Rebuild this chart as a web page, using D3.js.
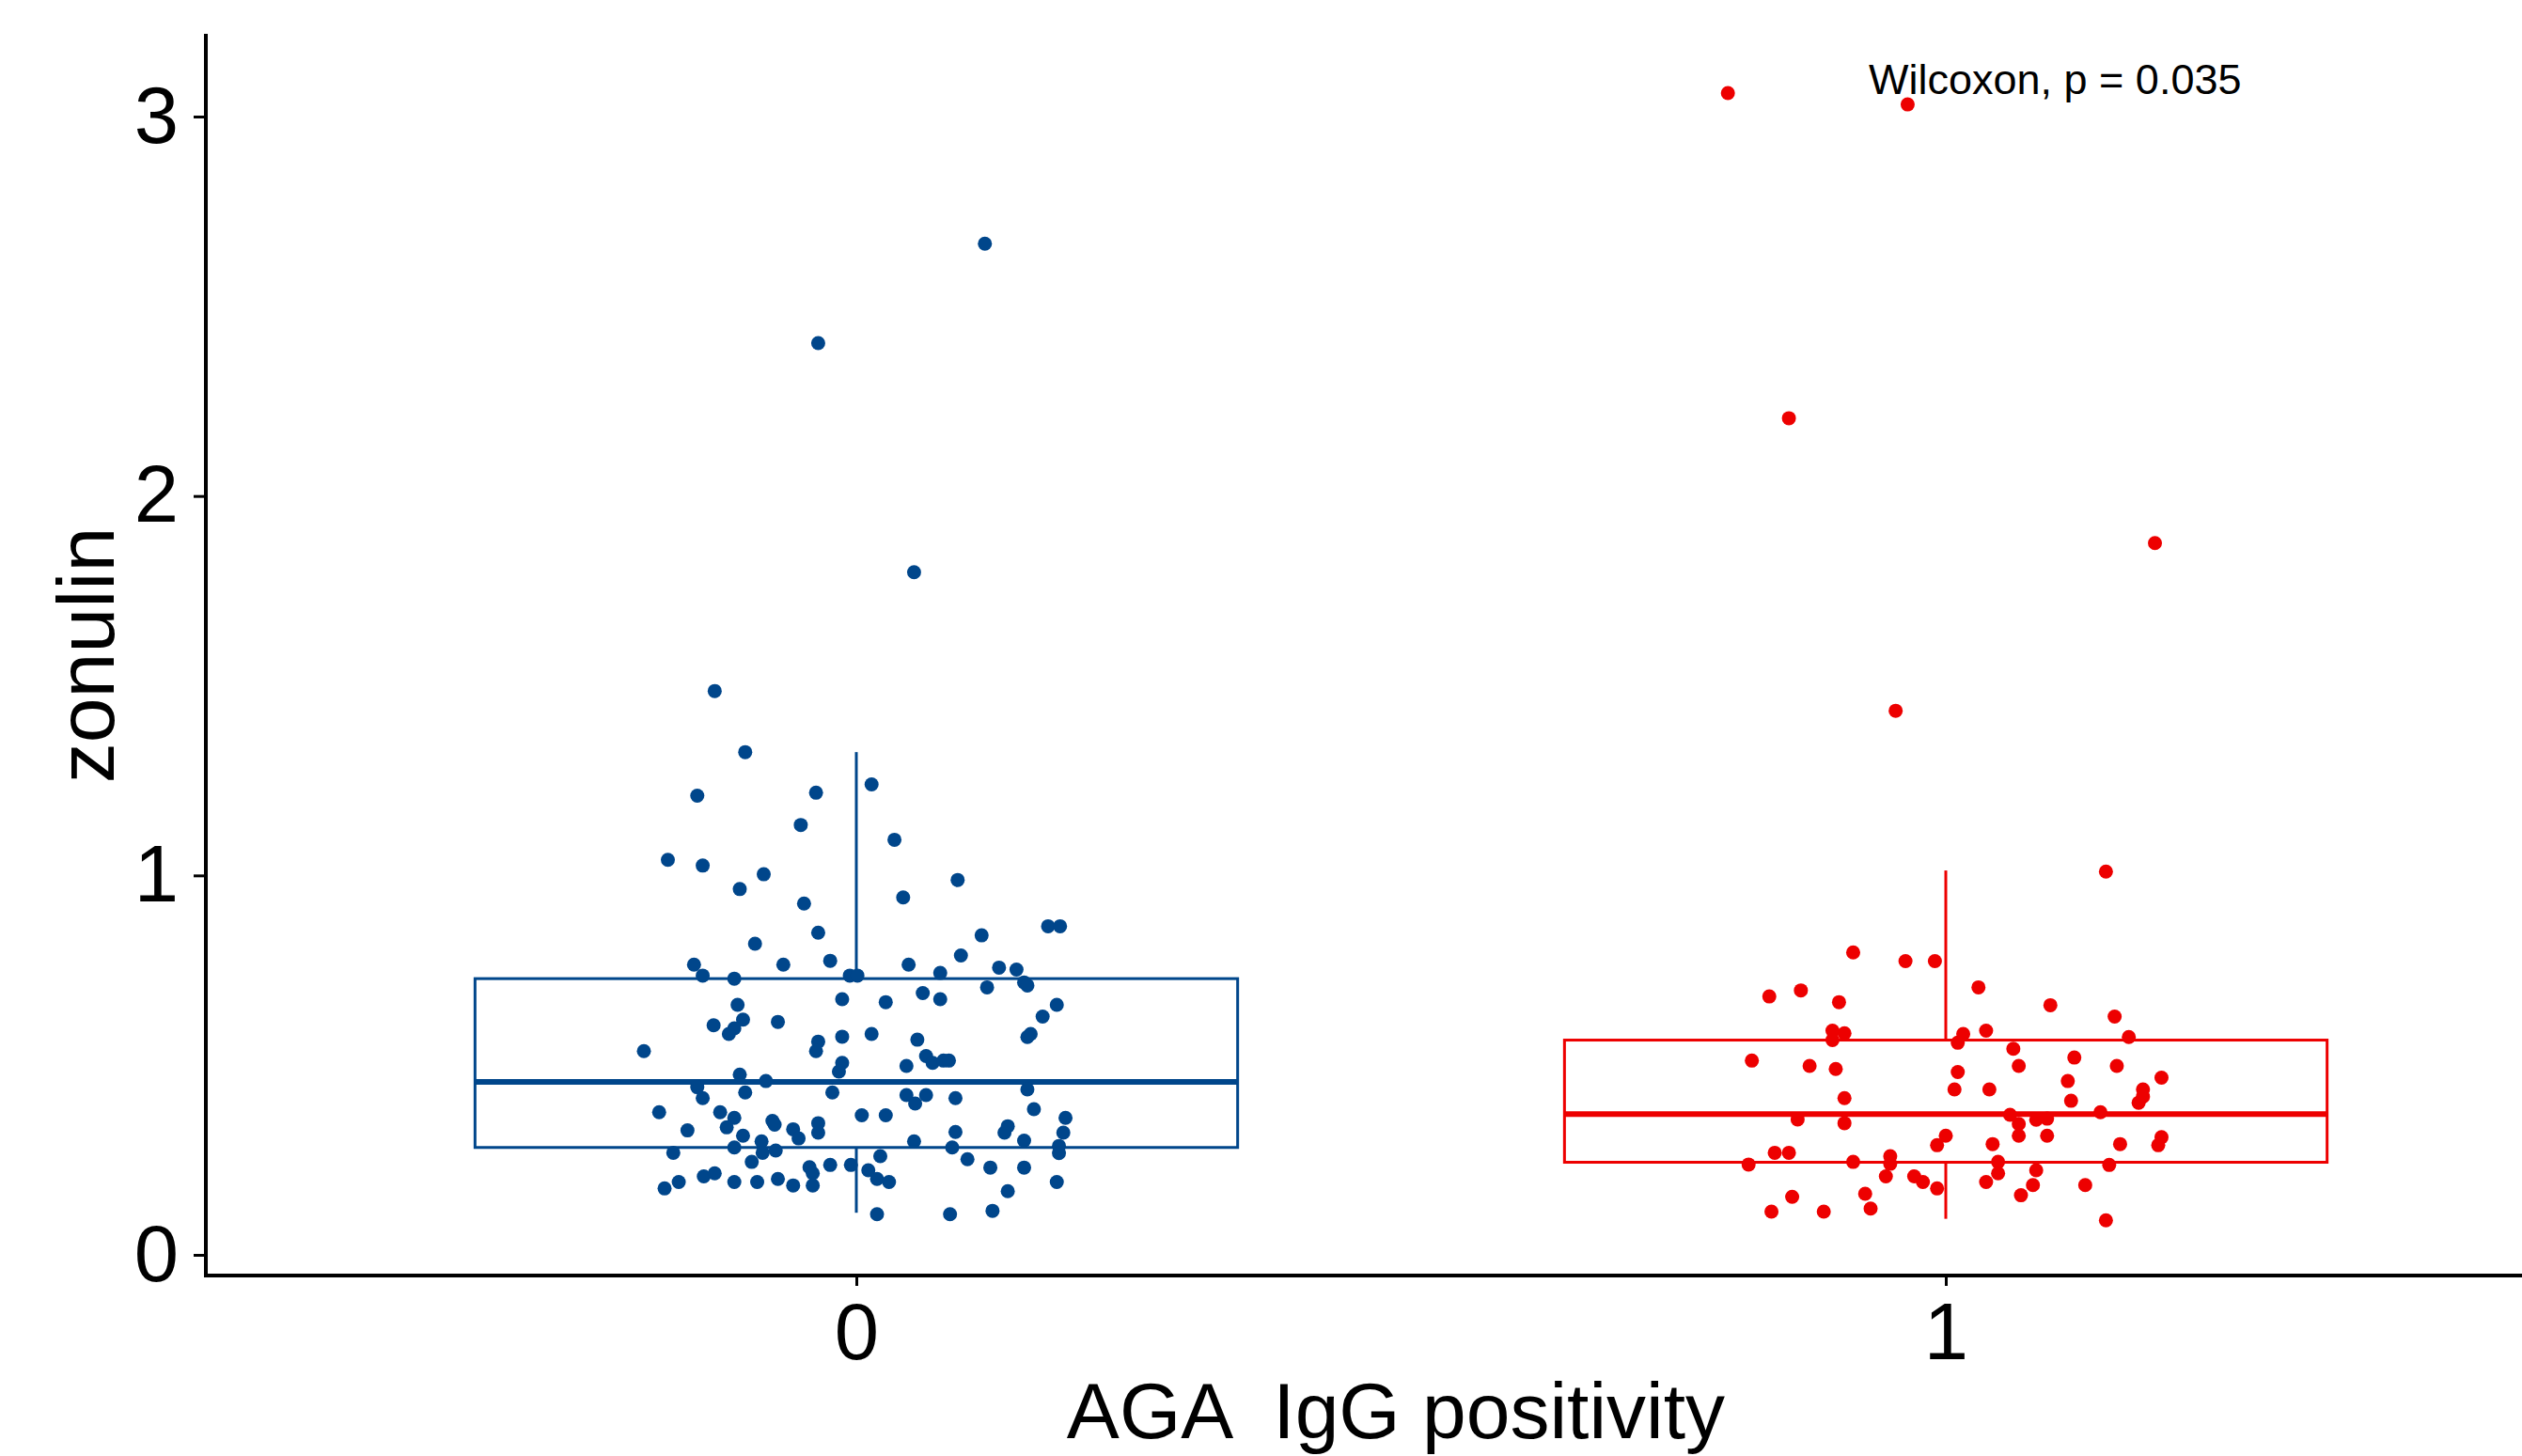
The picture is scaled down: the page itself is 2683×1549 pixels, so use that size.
<!DOCTYPE html>
<html>
<head>
<meta charset="utf-8">
<script src="https://cdn.jsdelivr.net/npm/d3@7"></script>
<style>
  body { margin: 0; background: #fff; }
  text { font-family: "Liberation Sans", Arial, sans-serif; fill: #000; }
</style>
</head>
<body>
<div id="chart"></div>
<script>
var width = 2683;
var height = 1549;

// groups and colours
var groups = ["0", "1"];
var colors = ["#00468B", "#ED0000"];

// points: [jitter offset from group centre, zonulin]
var points0 = [
  [-0.102, 1.325], [-0.146, 1.210], [-0.037, 1.218], [0.014, 1.240], [-0.051, 1.133],
  [0.035, 1.094], [-0.173, 1.041], [-0.141, 1.026], [-0.085, 1.003], [-0.107, 0.964],
  [0.093, 0.988], [-0.048, 0.926], [0.043, 0.942], [-0.035, 0.849], [0.176, 0.866],
  [0.187, 0.866], [0.115, 0.842], [-0.093, 0.820], [0.096, 0.789], [-0.149, 0.765],
  [-0.067, 0.765], [-0.024, 0.775], [0.048, 0.765], [0.131, 0.757], [0.147, 0.752],
  [-0.141, 0.736], [-0.112, 0.728], [-0.006, 0.736], [0.001, 0.736], [0.077, 0.743],
  [0.154, 0.718], [0.157, 0.710], [0.120, 0.705], [0.061, 0.690], [-0.013, 0.674],
  [0.027, 0.666], [0.077, 0.674], [-0.109, 0.659], [0.184, 0.659], [-0.104, 0.620],
  [0.171, 0.628], [-0.131, 0.605], [-0.072, 0.614], [-0.112, 0.597], [-0.117, 0.582],
  [-0.013, 0.575], [0.014, 0.582], [0.160, 0.582], [0.157, 0.574], [-0.035, 0.562],
  [0.056, 0.567], [-0.037, 0.537], [-0.195, 0.537], [0.064, 0.524], [0.070, 0.506],
  [0.080, 0.512], [0.085, 0.512], [-0.013, 0.506], [0.046, 0.498], [-0.016, 0.483],
  [-0.107, 0.475], [-0.083, 0.458], [-0.146, 0.442], [0.157, 0.436], [-0.102, 0.428],
  [-0.022, 0.428], [-0.141, 0.413], [0.046, 0.421], [0.064, 0.421], [0.091, 0.413],
  [0.054, 0.399], [-0.181, 0.376], [-0.125, 0.376], [0.163, 0.384], [-0.112, 0.361],
  [0.005, 0.368], [0.027, 0.368], [0.192, 0.361], [-0.077, 0.353], [-0.035, 0.347],
  [-0.119, 0.336], [-0.075, 0.343], [-0.155, 0.328], [-0.058, 0.331], [0.139, 0.339],
  [-0.035, 0.322], [0.190, 0.322], [0.091, 0.324], [0.136, 0.322], [-0.104, 0.314],
  [-0.053, 0.307], [-0.087, 0.299], [0.053, 0.299], [0.154, 0.301], [-0.112, 0.283],
  [0.088, 0.283], [0.186, 0.287], [-0.168, 0.269], [-0.086, 0.269], [-0.074, 0.275],
  [0.186, 0.268], [0.022, 0.260], [0.102, 0.252], [-0.096, 0.245], [-0.043, 0.231],
  [-0.024, 0.237], [-0.005, 0.237], [0.011, 0.223], [0.123, 0.230], [0.154, 0.230],
  [-0.140, 0.207], [-0.130, 0.215], [-0.040, 0.215], [-0.072, 0.200], [-0.163, 0.192],
  [-0.112, 0.192], [-0.091, 0.192], [0.019, 0.200], [0.030, 0.192], [0.184, 0.192],
  [-0.176, 0.175], [-0.058, 0.183], [-0.040, 0.183], [0.139, 0.168], [0.019, 0.107],
  [0.086, 0.107], [0.125, 0.116], [0.118, 2.665], [-0.035, 2.403], [0.053, 1.799],
  [-0.130, 1.486]
];

var points1 = [
  [0.147, 1.010], [-0.085, 0.797], [-0.037, 0.774], [-0.010, 0.774], [0.030, 0.705],
  [-0.162, 0.681], [-0.133, 0.697], [-0.098, 0.666], [0.096, 0.658], [0.155, 0.628],
  [-0.104, 0.591], [-0.093, 0.584], [-0.104, 0.566], [0.016, 0.582], [0.011, 0.559],
  [0.037, 0.591], [0.168, 0.574], [0.062, 0.543], [-0.178, 0.512], [-0.125, 0.498],
  [-0.101, 0.490], [0.067, 0.498], [0.118, 0.520], [0.157, 0.498], [0.011, 0.482],
  [0.112, 0.458], [0.198, 0.467], [0.008, 0.436], [0.040, 0.436], [0.181, 0.436],
  [0.181, 0.417], [0.115, 0.406], [-0.093, 0.413], [0.177, 0.401], [0.142, 0.376],
  [0.059, 0.369], [-0.136, 0.357], [-0.093, 0.347], [0.067, 0.345], [0.083, 0.356],
  [0.093, 0.359], [0.000, 0.314], [0.067, 0.314], [0.093, 0.314], [-0.008, 0.289],
  [0.043, 0.292], [0.160, 0.292], [0.198, 0.310], [0.195, 0.289], [-0.157, 0.269],
  [-0.144, 0.269], [-0.051, 0.260], [-0.181, 0.238], [-0.085, 0.245], [0.048, 0.245],
  [0.150, 0.237], [-0.051, 0.240], [0.048, 0.215], [0.083, 0.223], [-0.055, 0.207],
  [-0.029, 0.207], [-0.021, 0.192], [-0.008, 0.175], [0.037, 0.192], [0.080, 0.184],
  [0.128, 0.184], [-0.141, 0.153], [-0.074, 0.161], [0.069, 0.157], [-0.160, 0.114],
  [-0.112, 0.114], [-0.069, 0.122], [0.147, 0.091], [-0.200, 3.062], [-0.035, 3.032],
  [-0.144, 2.205], [0.192, 1.876], [-0.046, 1.434]
];

// box stats per group: [whisker low, q1, median, q3, whisker high]
var boxStats = [
  [0.111, 0.283, 0.456, 0.728, 1.325],
  [0.095, 0.244, 0.371, 0.566, 1.013]
];

var yTicks = [0, 1, 2, 3];
var pLabel = "Wilcoxon, p = 0.035";
var xTitle = "AGA  IgG positivity";
var yTitle = "zonulin";

// scales
var xScale = d3.scaleLinear().domain([0, 1]).range([911, 2070]);
var yScale = d3.scaleLinear().domain([0, 3]).range([1335, 124]);
var panelLeft = 219, panelTop = 36, panelBottom = 1357;
var boxHalf = 0.35;

var svg = d3.select("#chart")
  .append("svg")
  .attr("width", width)
  .attr("height", height);

// boxes
var boxes = svg.selectAll("g.box")
  .data(boxStats)
  .enter()
  .append("g")
  .attr("class", "box")
  .attr("stroke", function (d, i) { return colors[i]; })
  .attr("fill", "none");

boxes.append("line")
  .attr("x1", function (d, i) { return xScale(i); })
  .attr("x2", function (d, i) { return xScale(i); })
  .attr("y1", function (d) { return yScale(d[3]); })
  .attr("y2", function (d) { return yScale(d[4]); })
  .attr("stroke-width", 3);

boxes.append("line")
  .attr("x1", function (d, i) { return xScale(i); })
  .attr("x2", function (d, i) { return xScale(i); })
  .attr("y1", function (d) { return yScale(d[1]); })
  .attr("y2", function (d) { return yScale(d[0]); })
  .attr("stroke-width", 3);

boxes.append("rect")
  .attr("x", function (d, i) { return xScale(i - boxHalf); })
  .attr("y", function (d) { return yScale(d[3]); })
  .attr("width", function (d, i) { return xScale(i + boxHalf) - xScale(i - boxHalf); })
  .attr("height", function (d) { return yScale(d[1]) - yScale(d[3]); })
  .attr("stroke-width", 3);

boxes.append("line")
  .attr("x1", function (d, i) { return xScale(i - boxHalf); })
  .attr("x2", function (d, i) { return xScale(i + boxHalf); })
  .attr("y1", function (d) { return yScale(d[2]); })
  .attr("y2", function (d) { return yScale(d[2]); })
  .attr("stroke-width", 6);

// jittered points
[points0, points1].forEach(function (pts, g) {
  svg.append("g")
    .selectAll("circle")
    .data(pts)
    .enter()
    .append("circle")
    .attr("cx", function (d) { return xScale(g + d[0]); })
    .attr("cy", function (d) { return yScale(d[1]); })
    .attr("r", 7.5)
    .attr("fill", colors[g]);
});

// axes
var yAxis = d3.axisLeft(yScale).tickValues(yTicks).tickSize(13).tickPadding(16)
  .tickFormat(d3.format("d"));
var yG = svg.append("g")
  .attr("transform", "translate(" + panelLeft + ",0)")
  .call(yAxis);
yG.select(".domain").remove();
yG.selectAll(".tick line").attr("stroke", "#000").attr("stroke-width", 3);
yG.selectAll(".tick text").attr("font-size", "85px").attr("font-family", "Liberation Sans, Arial, sans-serif").attr("fill", "#000");

var xAxis = d3.axisBottom(xScale).tickValues([0, 1]).tickSize(11).tickPadding(18)
  .tickFormat(function (d) { return groups[d]; });
var xG = svg.append("g")
  .attr("transform", "translate(0," + panelBottom + ")")
  .call(xAxis);
xG.select(".domain").remove();
xG.selectAll(".tick line").attr("stroke", "#000").attr("stroke-width", 3);
xG.selectAll(".tick text").attr("font-size", "85px").attr("font-family", "Liberation Sans, Arial, sans-serif").attr("fill", "#000");

svg.append("line")
  .attr("x1", panelLeft).attr("x2", panelLeft)
  .attr("y1", panelTop).attr("y2", panelBottom + 2)
  .attr("stroke", "#000").attr("stroke-width", 4);
svg.append("line")
  .attr("x1", panelLeft - 2).attr("x2", width)
  .attr("y1", panelBottom).attr("y2", panelBottom)
  .attr("stroke", "#000").attr("stroke-width", 4);

// titles
svg.append("text")
  .attr("x", 1485)
  .attr("y", 1530)
  .attr("text-anchor", "middle")
  .attr("font-size", "84px")
  .style("white-space", "pre")
  .text(xTitle);

svg.append("text")
  .attr("transform", "translate(121,697) rotate(-90)")
  .attr("text-anchor", "middle")
  .attr("font-size", "86px")
  .text(yTitle);

svg.append("text")
  .attr("x", 1988)
  .attr("y", 100)
  .attr("font-size", "45px")
  .text(pLabel);
</script>
</body>
</html>
